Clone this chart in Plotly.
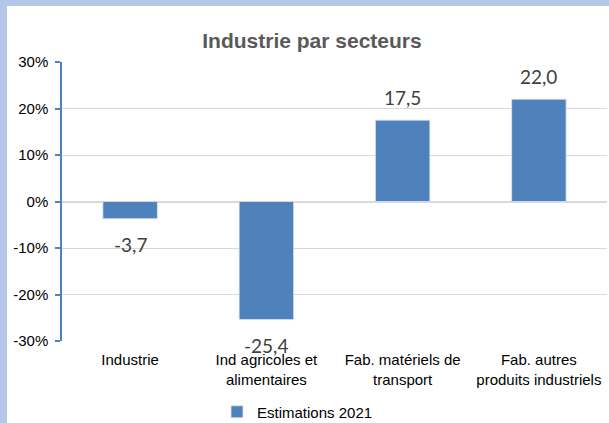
import plotly.graph_objects as go

categories = ["Industrie", "Ind agricoles et<br>alimentaires", "Fab. matériels de<br>transport", "Fab. autres<br>produits industriels"]
values = [-3.7, -25.4, 17.5, 22.0]
series_name = "Estimations 2021"
title_text = "Industrie par secteurs"
y_ticks = [-30, -20, -10, 0, 10, 20, 30]
y_tick_labels = [f"{t}%" for t in y_ticks]

W, H = 609, 423
ML, MR, MT, MB = 62, 2, 62, 82
PW = W - ML - MR
PH = H - MT - MB

def px_x(p):
    return (p - ML) / PW

def px_y(p):
    return (H - MB - p) / PH

bar_color = "#4F81BD"
FONT = "Liberation Sans, Arial, sans-serif"

fig = go.Figure()
fig.add_trace(go.Bar(
    x=categories, y=values, name=series_name,
    marker=dict(color=bar_color, line=dict(color="#DCE6F2", width=0.8)),
    width=0.4, showlegend=True,
))

for c, v in zip(categories, values):
    fig.add_annotation(
        x=c, y=v, xref="x", yref="y",
        text=f"{v:.1f}".replace(".", ","),
        showarrow=False, yanchor="middle", xanchor="center",
        yshift=23 if v >= 0 else -26,
        font=dict(family="Lato, Open Sans, sans-serif", size=19, color="#404040"),
    )

# light blue frame
fig.add_shape(type="rect", xref="paper", yref="paper",
              x0=px_x(7), x1=px_x(W + 5), y0=px_y(H + 5), y1=px_y(6),
              fillcolor="white", line=dict(width=0), layer="below")

fig.update_layout(
    width=W, height=H,
    margin=dict(l=ML, r=MR, t=MT, b=MB, pad=0),
    paper_bgcolor="#B4C7E7",
    plot_bgcolor="rgba(0,0,0,0)",
    title=dict(text=f"<b>{title_text}</b>", x=312 / W, xanchor="center",
               y=1 - 41 / H, yanchor="middle",
               font=dict(family=FONT, size=21, color="#595959")),
    font=dict(family=FONT, size=15, color="#000000"),
    bargap=0.6,
    legend=dict(orientation="h", xref="container", yref="container",
                x=217 / W, xanchor="left", y=(H - 412) / H, yanchor="middle",
                bgcolor="rgba(0,0,0,0)", font=dict(family=FONT, size=15, color="#000000"),
                itemwidth=30),
)

fig.update_yaxes(
    range=[-30, 30], tickvals=y_ticks, ticktext=y_tick_labels,
    showgrid=True, gridcolor="#D9D9D9", gridwidth=1.2,
    zeroline=True, zerolinecolor="#D9D9D9", zerolinewidth=1.5,
    showline=True, linecolor="#4F81BD", linewidth=1.5,
    ticks="outside", ticklen=5, tickcolor="#4F81BD", tickwidth=1.5,
    ticklabelstandoff=4,
    tickfont=dict(family=FONT, size=15, color="#000000"),
)
fig.update_xaxes(
    showgrid=False, showline=False, ticks="", tickfont=dict(family=FONT, size=15, color="#000000"),
    ticklabelstandoff=8,
)

fig.write_html("out.html", config={"displayModeBar": False},
               post_script="document.body.style.margin='0';")
